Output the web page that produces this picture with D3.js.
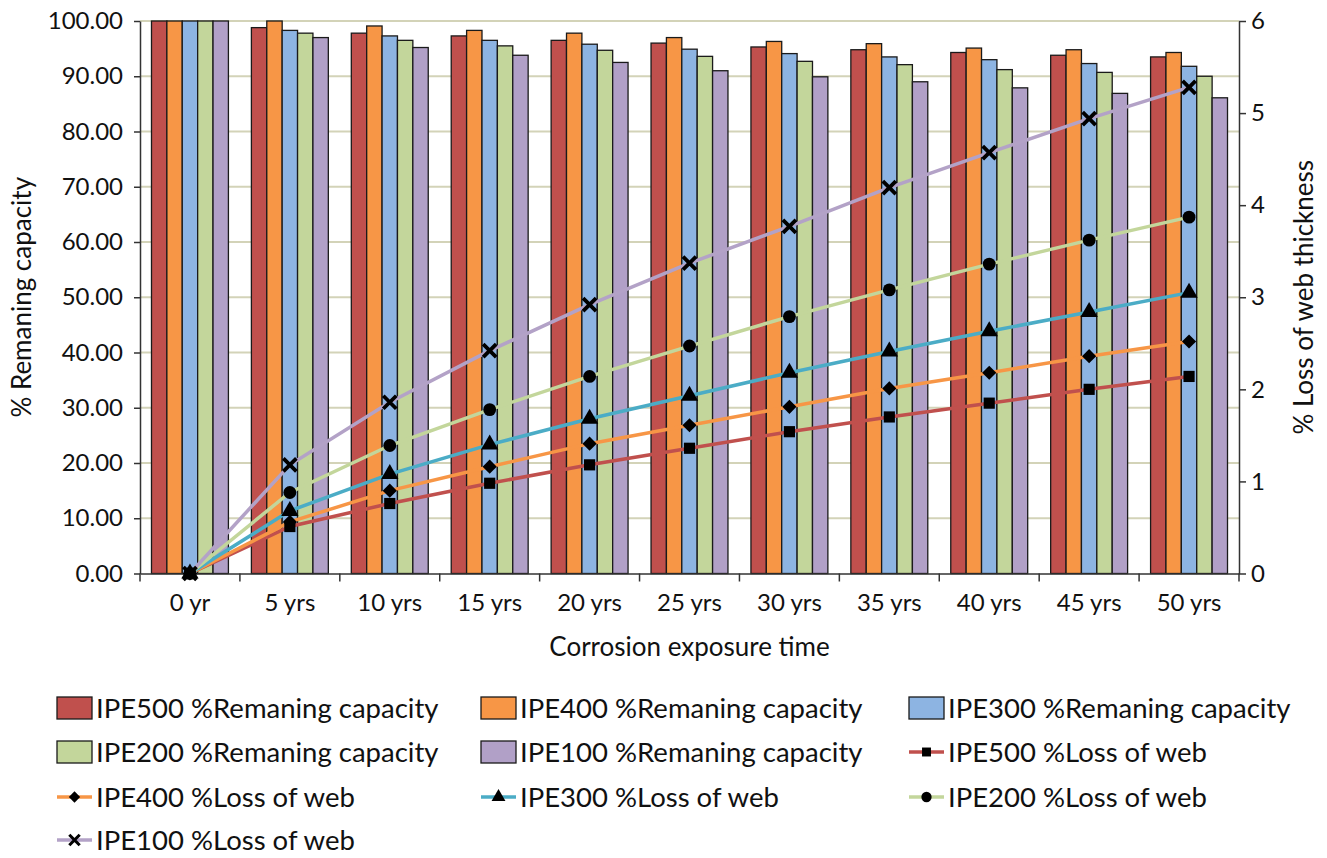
<!DOCTYPE html>
<html>
<head>
<meta charset="utf-8">
<script src="https://cdn.jsdelivr.net/npm/d3@7"></script>
<style>
  body { margin: 0; background: #fff; }
  svg text { font-family: Lato, "Open Sans", sans-serif; fill: #111; }
</style>
</head>
<body>
<div id="chart"></div>
<script>
// categories along the x axis
var categories = ["0 yr", "5 yrs", "10 yrs", "15 yrs", "20 yrs", "25 yrs", "30 yrs", "35 yrs", "40 yrs", "45 yrs", "50 yrs"];

// % remaining capacity (bars, left axis)
var capIPE500 = [100, 98.8, 97.8, 97.3, 96.5, 96.0, 95.3, 94.8, 94.3, 93.8, 93.5];
var capIPE400 = [100, 100, 99.1, 98.3, 97.8, 97.0, 96.3, 95.9, 95.1, 94.8, 94.3];
var capIPE300 = [100, 98.3, 97.3, 96.5, 95.8, 94.9, 94.1, 93.5, 93.0, 92.3, 91.8];
var capIPE200 = [100, 97.8, 96.5, 95.5, 94.7, 93.6, 92.7, 92.1, 91.2, 90.7, 90.0];
var capIPE100 = [100, 97.0, 95.2, 93.8, 92.5, 91.0, 89.9, 89.0, 87.9, 86.9, 86.1];

// % loss of web thickness (lines, right axis)
var lossIPE500 = [0, 0.51, 0.76, 0.98, 1.18, 1.36, 1.54, 1.70, 1.85, 2.00, 2.14];
var lossIPE400 = [0, 0.56, 0.90, 1.16, 1.41, 1.61, 1.81, 2.01, 2.18, 2.36, 2.52];
var lossIPE300 = [0, 0.68, 1.08, 1.40, 1.68, 1.93, 2.18, 2.41, 2.63, 2.84, 3.05];
var lossIPE200 = [0, 0.88, 1.39, 1.78, 2.14, 2.47, 2.79, 3.08, 3.36, 3.62, 3.87];
var lossIPE100 = [0, 1.18, 1.86, 2.42, 2.92, 3.37, 3.77, 4.19, 4.57, 4.94, 5.28];

var leftTicks = [0, 10, 20, 30, 40, 50, 60, 70, 80, 90, 100];
var rightTicks = [0, 1, 2, 3, 4, 5, 6];

var barSeries = [
  {name: "IPE500 %Remaning capacity", values: capIPE500, color: "#C0504D"},
  {name: "IPE400 %Remaning capacity", values: capIPE400, color: "#F79646"},
  {name: "IPE300 %Remaning capacity", values: capIPE300, color: "#8DB4E2"},
  {name: "IPE200 %Remaning capacity", values: capIPE200, color: "#C3D69B"},
  {name: "IPE100 %Remaning capacity", values: capIPE100, color: "#B1A0C7"}
];
var lineSeries = [
  {name: "IPE500 %Loss of web", values: lossIPE500, color: "#C0504D", marker: "square"},
  {name: "IPE400 %Loss of web", values: lossIPE400, color: "#F79646", marker: "diamond"},
  {name: "IPE300 %Loss of web", values: lossIPE300, color: "#4BACC6", marker: "triangle"},
  {name: "IPE200 %Loss of web", values: lossIPE200, color: "#C3D69B", marker: "circle"},
  {name: "IPE100 %Loss of web", values: lossIPE100, color: "#B3A2C7", marker: "x"}
];

var W = 1327, H = 858;
var plot = {left: 140, right: 1239, top: 21, bottom: 573.5};

var svg = d3.select("#chart").append("svg")
    .attr("width", W)
    .attr("height", H);

// scales
var x0 = d3.scaleBand().domain(categories).range([plot.left, plot.right]);
var x1 = d3.scaleBand().domain(barSeries.map(function(d) { return d.name; }))
    .range([x0.bandwidth() * 0.115, x0.bandwidth() * 0.885]);
var yL = d3.scaleLinear().domain([0, 100]).range([plot.bottom, plot.top]);
var yR = d3.scaleLinear().domain([0, 6]).range([plot.bottom, plot.top]);

// gridlines
svg.append("g")
  .selectAll("line")
  .data(leftTicks.slice(1))
  .enter().append("line")
    .attr("x1", plot.left).attr("x2", plot.right)
    .attr("y1", function(d) { return yL(d); })
    .attr("y2", function(d) { return yL(d); })
    .attr("stroke", "#d3d3b8")
    .attr("stroke-width", 2);

// bars
var groups = svg.append("g").selectAll("g")
  .data(categories)
  .enter().append("g")
    .attr("transform", function(d) { return "translate(" + x0(d) + ",0)"; });

groups.selectAll("rect")
  .data(function(d, i) {
    return barSeries.map(function(s) { return {name: s.name, value: s.values[i], color: s.color}; });
  })
  .enter().append("rect")
    .attr("x", function(d) { return x1(d.name); })
    .attr("width", x1.bandwidth())
    .attr("y", function(d) { return yL(d.value); })
    .attr("height", function(d) { return plot.bottom - yL(d.value); })
    .attr("fill", function(d) { return d.color; })
    .attr("stroke", "#1a1a1a")
    .attr("stroke-width", 1.3);

// axes
var axisLeft = d3.axisLeft(yL).tickValues(leftTicks).tickSize(6).tickSizeOuter(0)
    .tickFormat(d3.format(".2f"));
var gl = svg.append("g").attr("transform", "translate(" + plot.left + ",0)").call(axisLeft);

var axisRight = d3.axisRight(yR).tickValues(rightTicks).tickSize(7).tickSizeOuter(0)
    .tickFormat(d3.format("d"));
var gr = svg.append("g").attr("transform", "translate(" + plot.right + ",0)").call(axisRight);

var axisBottom = d3.axisBottom(x0).tickSize(0).tickSizeOuter(0);
var gb = svg.append("g").attr("transform", "translate(0," + plot.bottom + ")").call(axisBottom);

// category separators on the x axis
svg.append("g").selectAll("line")
  .data(categories.concat(["end"]))
  .enter().append("line")
    .attr("x1", function(d, i) { return plot.left + i * x0.bandwidth(); })
    .attr("x2", function(d, i) { return plot.left + i * x0.bandwidth(); })
    .attr("y1", plot.bottom)
    .attr("y2", plot.bottom + 8)
    .attr("stroke", "#333")
    .attr("stroke-width", 1.5);

[gl, gr, gb].forEach(function(g) {
  g.selectAll(".domain").attr("stroke", "#333").attr("stroke-width", 1.5);
  g.selectAll(".tick line").attr("stroke", "#333").attr("stroke-width", 1.5);
  g.selectAll("text").style("font-size", "24px").attr("fill", "#111");
});
gl.selectAll("text").attr("x", -17);
gr.selectAll("text").attr("x", 12);
gb.selectAll("text").attr("dy", "1.45em");

// lines
var line = d3.line()
    .x(function(d, i) { return x0(categories[i]) + x0.bandwidth() / 2; })
    .y(function(d) { return yR(d); });

lineSeries.forEach(function(s) {
  svg.append("path")
    .datum(s.values)
    .attr("d", line)
    .attr("fill", "none")
    .attr("stroke", s.color)
    .attr("stroke-width", 3.5);
});

function drawMarker(g, type, cx, cy, scale) {
  var k = scale || 1;
  if (type === "x") {
    var r = 6.5 * k;
    g.append("path")
      .attr("d", "M" + (cx - r) + "," + (cy - r) + "L" + (cx + r) + "," + (cy + r) +
                 "M" + (cx - r) + "," + (cy + r) + "L" + (cx + r) + "," + (cy - r))
      .attr("stroke", "#000").attr("stroke-width", 3.8 * k).attr("fill", "none");
    return;
  }
  var sym = {square: d3.symbolSquare, diamond: d3.symbolSquare, triangle: d3.symbolTriangle, circle: d3.symbolCircle}[type];
  var size = {square: 125, diamond: 100, triangle: 130, circle: 130}[type] * k * k;
  g.append("path")
    .attr("d", d3.symbol().type(sym).size(size)())
    .attr("transform", "translate(" + cx + "," + cy + ")" + (type === "diamond" ? " rotate(45)" : ""))
    .attr("fill", "#000");
}

lineSeries.forEach(function(s) {
  var g = svg.append("g");
  s.values.forEach(function(v, i) {
    drawMarker(g, s.marker, x0(categories[i]) + x0.bandwidth() / 2, yR(v), 1);
  });
});

// axis titles
svg.append("text")
  .attr("transform", "translate(31," + ((plot.top + plot.bottom) / 2) + ") rotate(-90)")
  .attr("text-anchor", "middle")
  .style("font-size", "26px")
  .text("% Remaning capacity");

svg.append("text")
  .attr("transform", "translate(1313," + ((plot.top + plot.bottom) / 2) + ") rotate(-90)")
  .attr("text-anchor", "middle")
  .style("font-size", "26px")
  .text("% Loss of web thickness");

svg.append("text")
  .attr("x", (plot.left + plot.right) / 2)
  .attr("y", 656)
  .attr("text-anchor", "middle")
  .style("font-size", "26px")
  .text("Corrosion exposure time");

// legend
var legendItems = barSeries.map(function(s) { return {type: "bar", s: s}; })
  .concat(lineSeries.map(function(s) { return {type: "line", s: s}; }));
var colX = [57, 481, 909];
var rowY = [708, 752, 797, 840];

legendItems.forEach(function(item, i) {
  var lx = colX[i % 3], ly = rowY[Math.floor(i / 3)];
  var g = svg.append("g").attr("transform", "translate(" + lx + "," + ly + ")");
  if (item.type === "bar") {
    g.append("rect")
      .attr("x", 0).attr("y", -11).attr("width", 35).attr("height", 22)
      .attr("fill", item.s.color).attr("stroke", "#1a1a1a").attr("stroke-width", 1.3);
  } else {
    g.append("line")
      .attr("x1", 0).attr("x2", 35).attr("y1", 0).attr("y2", 0)
      .attr("stroke", item.s.color).attr("stroke-width", 3.5);
    drawMarker(g, item.s.marker, 17.5, 0, 0.8);
  }
  g.append("text")
    .attr("x", 39)
    .attr("y", 0)
    .attr("dy", "0.35em")
    .style("font-size", "27.5px")
    .text(item.s.name);
});
</script>
</body>
</html>
